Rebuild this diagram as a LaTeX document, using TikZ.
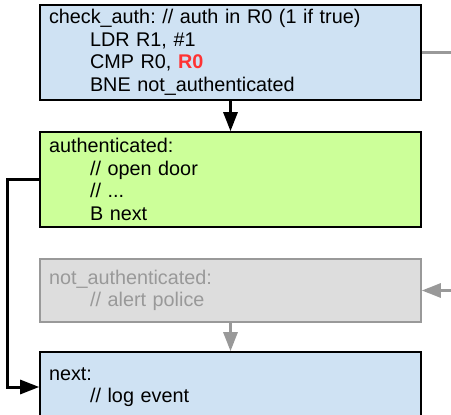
\documentclass[tikz,border=0pt]{standalone}
\usepackage{fontspec}
\setmainfont{Liberation Sans}
\usetikzlibrary{arrows.meta}
\definecolor{boxblue}{HTML}{CFE2F3}
\definecolor{boxgreen}{HTML}{CCFF99}
\definecolor{boxgray}{HTML}{DDDDDD}
\definecolor{linegray}{HTML}{999999}
\definecolor{redtxt}{HTML}{FF3333}
\newcommand{\ind}{\hspace*{41pt}}
\frenchspacing
\begin{document}
\begin{tikzpicture}[x=1pt,y=-1pt,
  codebox/.style={draw=black, line width=1.6pt, minimum width=381pt, text width=363pt,
    inner xsep=9pt, inner ysep=0pt, align=left, anchor=center,
    font=\fontsize{19.8pt}{22.5pt}\selectfont},
  graybox/.style={codebox, draw=linegray, fill=boxgray, text=linegray},
  blackline/.style={line width=3pt, black},
  grayline/.style={line width=3pt, linegray},
  tip/.style={-{Triangle[length=19pt,width=14pt]}}
]
\useasboundingbox (0,0) rectangle (451,415);
\clip (0,0) rectangle (451,415);
\node[codebox, fill=boxblue, minimum height=95pt] (check) at (230.5,52.5)
  {check\_auth: // auth in R0 (1 if true)\\
   \ind LDR R1, \#1\\
   \ind CMP R0, {\color{redtxt}\bfseries R0}\\
   \ind BNE not\_authenticated};
\node[codebox, fill=boxgreen, minimum height=95pt] (auth) at (230.5,179.5)
  {authenticated:\\
   \ind // open door\\
   \ind // ...\\
   \ind B next};
\node[graybox, minimum height=63pt] (notauth) at (230.5,290.5)
  {not\_authenticated:\\
   \ind // alert police};
\node[codebox, fill=boxblue, minimum height=70pt] (next) at (230.5,387)
  {next:\\
   \ind // log event};
\coordinate (outr) at (455,52.5);
\coordinate (inr) at (455,290.5);
\draw[blackline, tip] (check.south) -- (auth.north);
\draw[grayline, tip] (notauth.south) -- (next.north);
\draw[line width=2.5pt, linegray] (check.east) -- (outr);
\draw[grayline, tip] (inr) -- (notauth.east);
\draw[blackline, tip] (auth.west) -- ++(-32,0) |- (next.west);
\end{tikzpicture}
\end{document}
